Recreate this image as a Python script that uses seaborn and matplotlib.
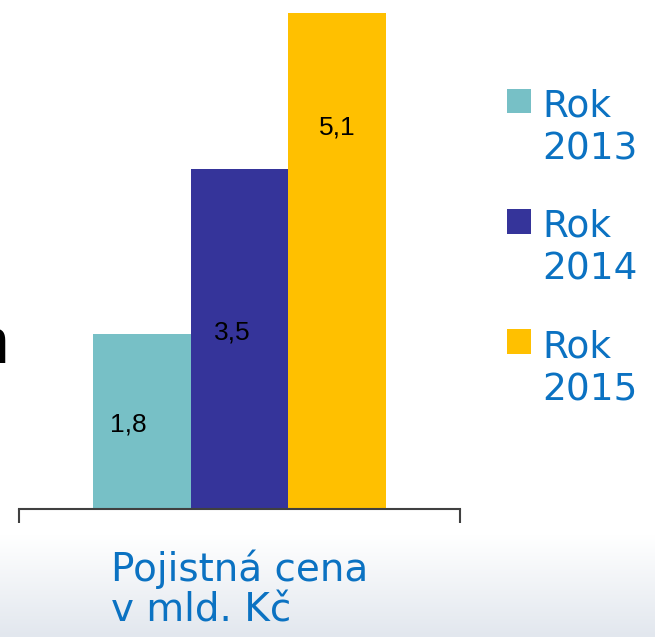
import numpy as np
import pandas as pd
import seaborn as sns
import matplotlib.pyplot as plt
from matplotlib.colors import LinearSegmentedColormap

# Data
kategorie = ["Pojistná cena\nv mld. Kč"]
roky = ["Rok\n2013", "Rok\n2014", "Rok\n2015"]
hodnoty = [1.8, 3.5, 5.1]
popisky = ["1,8", "3,5", "5,1"]

barvy = ["#77C0C6", "#35349A", "#FFC000"]
modra = "#0B72C2"

df = pd.DataFrame({
    "kategorie": kategorie * len(roky),
    "rok": roky,
    "hodnota": hodnoty,
})

sns.set_style("white")
plt.rcParams['font.family'] = ['Liberation Sans', 'DejaVu Sans']

fig = plt.figure(figsize=(6.55, 6.37), dpi=100)

# light gradient at the bottom of the slide
bg = fig.add_axes([0, 0, 1, 0.16], zorder=0)
cmap_bg = LinearSegmentedColormap.from_list("bg", ["#FFFFFF", "#E2E7EE"])
bg.imshow(np.linspace(0, 1, 200)[:, None], aspect="auto", cmap=cmap_bg,
          extent=[0, 1, 0, 1])
bg.axis("off")

ax = fig.add_axes([0.029, 0.2009, 0.6733, 0.7787], zorder=1)
ax.patch.set_alpha(0)

sns.barplot(data=df, x="kategorie", y="hodnota", hue="rok",
            palette=barvy, saturation=1, width=0.665, linewidth=0, ax=ax)

ax.set_xlim(-0.5, 0.5)
ax.set_ylim(0, 5.1)
ax.set_xlabel("")
ax.set_ylabel("")
ax.set_yticks([])
for side in ["top", "right", "left"]:
    ax.spines[side].set_visible(False)
ax.spines["bottom"].set_linewidth(1.5)
ax.spines["bottom"].set_color("#404040")

# category label + boundary ticks
ax.set_xticks([-0.5, 0.5], minor=True)
ax.tick_params(axis="x", which="minor", bottom=True, length=10, width=1.5,
               color="#404040", direction="out")
ax.tick_params(axis="x", which="major", length=0, pad=29,
               labelsize=28, labelcolor=modra)
for lbl in ax.get_xticklabels():
    lbl.set_family("DejaVu Sans")
    lbl.set_multialignment("left")
    lbl.set_linespacing(1.1)

# value labels inside bars
pozice = [0.48, 0.52, 0.77]
posun = [(-10, 0), (-5, 0), (0, 0)]
for cont, txt, frac, off in zip(ax.containers, popisky, pozice, posun):
    bar = cont[0]
    ax.annotate(txt, (bar.get_x() + bar.get_width() / 2, bar.get_height() * frac),
                xytext=off, textcoords="offset points",
                ha="center", va="center", fontsize=19, color="black")

# legend on the right
handles, labels = ax.get_legend_handles_labels()
ax.get_legend().remove()
leg = fig.legend(handles, labels, loc="upper left", bbox_to_anchor=(0.774, 0.861),
                 frameon=False, prop={"family": "DejaVu Sans", "size": 27},
                 labelcolor=modra, handlelength=0.64, handleheight=0.64,
                 handletextpad=0.3, labelspacing=1.1, borderpad=0, borderaxespad=0)
for t in leg.get_texts():
    t.set_linespacing(1.25)
# square next to the first line of each entry
for col in leg._legend_handle_box.get_children():
    for row in col.get_children():
        row.align = "top"

# cut-off letter at the left edge
fig.text(9 / 655, 1 - 363 / 637, "n", fontsize=46, ha="right",
         va="baseline", color="black")

plt.savefig("out.png", dpi=100)
